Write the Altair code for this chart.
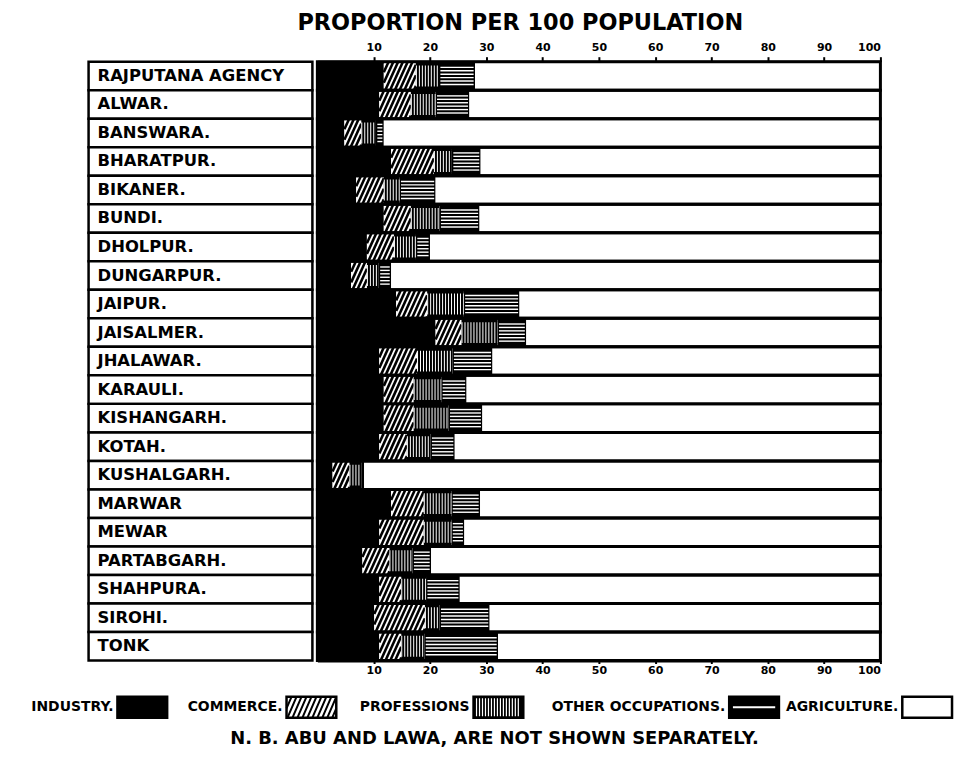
import altair as alt
import numpy as np
import pandas as pd

# ---------------- data ----------------
states = ["RAJPUTANA AGENCY", "ALWAR.", "BANSWARA.", "BHARATPUR.", "BIKANER.", "BUNDI.",
          "DHOLPUR.", "DUNGARPUR.", "JAIPUR.", "JAISALMER.", "JHALAWAR.", "KARAULI.",
          "KISHANGARH.", "KOTAH.", "KUSHALGARH.", "MARWAR", "MEWAR", "PARTABGARH.",
          "SHAHPURA.", "SIROHI.", "TONK"]
industry =    [11.8, 11.0, 4.8, 13.1, 6.9, 11.8, 8.8, 6.0, 14.0, 21.0, 11.0, 11.8, 11.8, 11.0, 2.7, 13.1, 11.0, 8.0, 11.0, 10.1, 11.0]
commerce =    [5.7, 5.6, 3.0, 7.6, 4.9, 4.8, 4.8, 2.8, 5.5, 4.6, 6.7, 5.3, 5.3, 4.9, 3.0, 5.8, 7.9, 4.8, 3.9, 9.0, 3.9]
professions = [4.1, 4.4, 2.6, 3.2, 2.8, 5.1, 3.9, 2.1, 6.5, 6.4, 6.3, 4.9, 6.2, 4.2, 2.1, 4.9, 4.9, 4.1, 4.4, 2.6, 4.1]
other =       [6.4, 6.0, 1.4, 5.1, 6.4, 7.1, 2.5, 2.2, 9.9, 5.1, 7.1, 4.5, 6.0, 4.3, 0.5, 5.1, 2.3, 3.3, 6.0, 8.9, 13.1]
agriculture = [72.0, 73.0, 88.2, 71.0, 79.0, 71.2, 80.0, 86.9, 64.1, 62.9, 68.9, 73.5, 70.7, 75.6, 91.7, 71.1, 73.9, 79.8, 74.7, 69.4, 67.9]

categories = ["Industry", "Commerce", "Professions", "Other occupations", "Agriculture"]
legend_labels = ["INDUSTRY.", "COMMERCE.", "PROFESSIONS", "OTHER OCCUPATIONS.", "AGRICULTURE."]
x_ticks = [10, 20, 30, 40, 50, 60, 70, 80, 90, 100]
title_text = "PROPORTION PER 100 POPULATION"
note_text = "N. B. ABU AND LAWA, ARE NOT SHOWN SEPARATELY."

# ---------------- tables built from the arrays ----------------
FONT = "DejaVu Sans"
W, H = 566, 602
n = len(states)
series = [industry, commerce, professions, other, agriculture]

rows = []
for i, s in enumerate(states):
    acc = 0.0
    for c, vals in zip(categories, series):
        v = vals[i]
        rows.append(dict(state=s, idx=i, cat=c, start=acc, end=acc + v,
                         top=i, bot=i + 1, mid=i + 0.5))
        acc += v
seg = pd.DataFrame(rows)
rowdf = pd.DataFrame(dict(state=states, top=list(range(n)),
                          bot=[i + 1 for i in range(n)],
                          mid=[i + 0.5 for i in range(n)],
                          lo=[0] * n, hi=[100] * n))

# diagonal hatching for commerce
D, STEP = 2.3, 0.85
hat = []
for r in seg[seg.cat == "Commerce"].itertuples():
    a, b, i = r.start, r.end, r.idx
    for t in np.arange(a - D, b, STEP):
        x0, y0, x1, y1 = t, i + 1.0, t + D, float(i)
        if x0 < a:
            f = (a - t) / D
            x0, y0 = a, i + 1 - f
        if x1 > b:
            g = (b - t) / D
            x1, y1 = b, i + 1 - g
        if x1 - x0 > 0.05:
            hat.append(dict(x0=x0, x1=x1, y0=y0, y1=y1))
hatdf = pd.DataFrame(hat)

profdf = seg[seg.cat == "Professions"].copy()

hl = []
for r in seg[seg.cat == "Other occupations"].itertuples():
    if r.end - r.start > 0.7:
        for fr in [0.2, 0.32, 0.44, 0.56, 0.68, 0.8]:
            hl.append(dict(x0=r.start + 0.25, x1=r.end - 0.25, y=r.idx + fr))
hldf = pd.DataFrame(hl)

xs = alt.Scale(domain=[0, 100], nice=False, zero=False)
ys = alt.Scale(domain=[0, n], reverse=True, nice=False, zero=False)

axis_common = dict(values=x_ticks, title=None, grid=False, domainColor="black",
                   domainWidth=3, tickColor="black", tickWidth=2,
                   labelFont=FONT, labelFontWeight="bold", labelFontSize=11,
                   labelColor="black")

bars = alt.Chart(seg).mark_rect().encode(
    x=alt.X("start:Q", scale=xs,
            axis=alt.Axis(orient="bottom", tickSize=3, labelPadding=1, **axis_common)),
    x2="end:Q",
    y=alt.Y("top:Q", scale=ys, axis=None),
    y2="bot:Q",
    color=alt.Color("cat:N", scale=alt.Scale(domain=categories,
                    range=["#000000", "#ffffff", "#000000", "#000000", "#ffffff"]),
                    legend=None),
)

hatch = alt.Chart(hatdf).mark_rule(color="black", strokeWidth=2.6).encode(
    x=alt.X("x0:Q", scale=xs, axis=None), x2="x1:Q",
    y=alt.Y("y0:Q", scale=ys, axis=None), y2="y1:Q",
)

vstripes = alt.Chart(profdf).mark_rule(color="white", strokeWidth=21, strokeDash=[1, 2]).encode(
    x=alt.X("start:Q", scale=xs, axis=None), x2="end:Q",
    y=alt.Y("mid:Q", scale=ys, axis=None),
)

hlines = alt.Chart(hldf).mark_rule(color="white", strokeWidth=1.4).encode(
    x=alt.X("x0:Q", scale=xs, axis=None), x2="x1:Q",
    y=alt.Y("y:Q", scale=ys, axis=None),
)

outline = alt.Chart(rowdf).mark_rect(fill="white", fillOpacity=0, stroke="black", strokeWidth=3).encode(
    x=alt.X("lo:Q", scale=xs,
            axis=alt.Axis(orient="top", tickSize=5, labelPadding=4, **axis_common)),
    x2="hi:Q",
    y=alt.Y("top:Q", scale=ys, axis=None),
    y2="bot:Q",
)

label_box = alt.Chart(rowdf).mark_rect(fill="white", stroke="black", strokeWidth=2.5).encode(
    x=alt.value(-230), x2=alt.value(-5),
    y=alt.Y("top:Q", scale=ys, axis=None), y2="bot:Q",
)
label_txt = alt.Chart(rowdf).mark_text(align="left", baseline="middle", font=FONT,
                                       fontWeight="bold", fontSize=16.5, color="black").encode(
    x=alt.value(-221),
    y=alt.Y("mid:Q", scale=ys, axis=None),
    text="state:N",
)

# ---------------- legend ----------------
LEG_Y = 649
box_left = [-201, -31, 157, 414, 588]
BOX_W = 50
box_path = "M-1,-0.42H1V0.42H-1Z"
fills = ["#000000", "#ffffff", "#000000", "#000000", "#ffffff"]

def diag_path():
    parts = []
    d, st = 0.36, 0.2
    for t in np.arange(-1 - d, 1, st):
        xa, ya, xb, yb = t, 0.42, t + d, -0.42
        if xa < -1:
            f = (-1 - t) / d
            xa, ya = -1, 0.42 - 0.84 * f
        if xb > 1:
            g = (1 - t) / d
            xb, yb = 1, 0.42 - 0.84 * g
        if xb - xa > 0.02:
            parts.append(f"M{xa:.3f},{ya:.3f}L{xb:.3f},{yb:.3f}")
    return "".join(parts)

vert_path = "".join(f"M{x:.2f},-0.36L{x:.2f},0.36" for x in np.arange(-0.88, 0.9, 0.12))
horiz_path = "M-0.85,0L0.85,0"
overlays = [None, (diag_path(), "black", 2.0), (vert_path, "white", 1.2),
            (horiz_path, "white", 2.2), None]

legend_layers = []
for k, (lab, cat) in enumerate(zip(legend_labels, categories)):
    d1 = pd.DataFrame(dict(label=[lab], cat=[cat]))
    legend_layers.append(
        alt.Chart(d1).mark_text(align="right", baseline="middle", font=FONT,
                                fontWeight="bold", fontSize=14, color="black").encode(
            x=alt.value(box_left[k] - 4), y=alt.value(LEG_Y), text="label:N"))
    legend_layers.append(
        alt.Chart(d1).mark_point(shape=box_path, size=BOX_W * BOX_W, filled=True,
                                 fill=fills[k], stroke="black", strokeWidth=2.5,
                                 opacity=1).encode(
            x=alt.value(box_left[k] + BOX_W / 2), y=alt.value(LEG_Y)))
    if overlays[k] is not None:
        p, col, sw = overlays[k]
        legend_layers.append(
            alt.Chart(d1).mark_point(shape=p, size=BOX_W * BOX_W, filled=False,
                                     stroke=col, strokeWidth=sw, opacity=1).encode(
                x=alt.value(box_left[k] + BOX_W / 2), y=alt.value(LEG_Y)))

note = alt.Chart(pd.DataFrame(dict(t=[note_text]))).mark_text(
    align="center", baseline="middle", font=FONT, fontWeight="bold", fontSize=18,
    color="black").encode(x=alt.value(178), y=alt.value(681), text="t:N")

chart = alt.layer(
    bars, hatch, vstripes, hlines, outline, label_box, label_txt, note, *legend_layers
).resolve_axis(x="independent").properties(
    width=W, height=H,
    padding={"left": 23, "top": 2, "right": 0, "bottom": 0},
    title=alt.TitleParams(title_text, font=FONT, fontWeight="bold", fontSize=22.5,
                          color="black", anchor="middle", frame="group", dx=-79,
                          offset=7),
).configure_view(strokeWidth=0).configure(background="white")

chart.save("out.html", embed_options={"renderer": "svg", "actions": False})
